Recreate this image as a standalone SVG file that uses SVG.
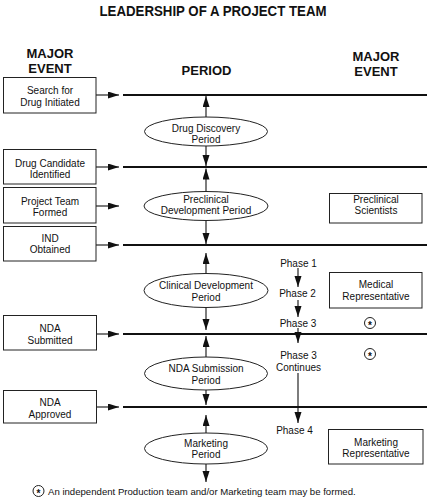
<svg xmlns="http://www.w3.org/2000/svg" width="427" height="500" viewBox="0 0 427 500">
<defs>
<marker id="ah" markerUnits="userSpaceOnUse" markerWidth="11" markerHeight="8" refX="11" refY="3.5" orient="auto">
<path d="M0,0 L11,3.5 L0,7 z" fill="#111"/>
</marker>
<style>
text{font-family:"Liberation Sans",Arial,sans-serif;fill:#111;text-anchor:middle}
.h{font-weight:bold;font-size:13px}
.t{font-size:10px}
.box{fill:#fff;stroke:#222;stroke-width:1}
.ell{fill:#fff;stroke:#222;stroke-width:1}
.ln{stroke:#111;stroke-width:2;fill:none}
.ar{stroke:#111;stroke-width:1.1;fill:none;marker-end:url(#ah)}
.st{fill:#fff;stroke:#222;stroke-width:1}
</style>
</defs>
<rect width="427" height="500" fill="#fff"/>
<text x="213" y="16" font-weight="bold" font-size="14.5" textLength="227" lengthAdjust="spacingAndGlyphs">LEADERSHIP OF A PROJECT TEAM</text>
<text class="h" x="50" y="58">MAJOR</text>
<text class="h" x="50" y="73">EVENT</text>
<text class="h" x="206.5" y="74.5">PERIOD</text>
<text class="h" x="376" y="61">MAJOR</text>
<text class="h" x="376" y="76">EVENT</text>

<g id="connectors">
<line class="ln" x1="123" y1="95" x2="427" y2="95"/>
<line class="ln" x1="123" y1="167" x2="427" y2="167"/>
<line class="ln" x1="123" y1="245" x2="427" y2="245"/>
<line class="ln" x1="123" y1="334" x2="427" y2="334"/>
<line class="ln" x1="123" y1="407" x2="427" y2="407"/>
<line class="ar" x1="96" y1="95" x2="119" y2="95"/>
<line class="ar" x1="96" y1="167" x2="119" y2="167"/>
<line class="ar" x1="96" y1="206" x2="119" y2="206"/>
<line class="ar" x1="96" y1="245" x2="119" y2="245"/>
<line class="ar" x1="97" y1="334" x2="119" y2="334"/>
<line class="ar" x1="97" y1="407" x2="119" y2="407"/>
<line class="ar" x1="206" y1="117" x2="206" y2="96"/>
<line class="ar" x1="206" y1="146" x2="206" y2="166"/>
<line class="ar" x1="206" y1="191.5" x2="206" y2="168.5"/>
<line class="ar" x1="206" y1="220.5" x2="206" y2="244"/>
<line class="ar" x1="206" y1="273.5" x2="206" y2="253"/>
<line class="ar" x1="206" y1="307.5" x2="206" y2="330"/>
<line class="ar" x1="206" y1="357" x2="206" y2="336"/>
<line class="ar" x1="206" y1="390" x2="206" y2="405"/>
<line class="ar" x1="206" y1="433" x2="206" y2="415"/>
<line class="ar" x1="206" y1="464" x2="206" y2="482"/>
<line class="ar" x1="298" y1="268" x2="298" y2="287"/>
<line class="ar" x1="298" y1="300" x2="298" y2="317"/>
<line class="ar" x1="298" y1="328" x2="298" y2="343"/>
<line class="ar" x1="298" y1="373" x2="298" y2="423"/>
</g>

<g id="ev-search">
<rect class="box" x="3.5" y="77.5" width="92.5" height="35.5"/>
<text class="t" x="50" y="93.5">Search for</text>
<text class="t" x="50" y="105.5">Drug Initiated</text>
</g>
<g id="ev-candidate">
<rect class="box" x="3.5" y="149.5" width="92.5" height="34.5"/>
<text class="t" x="50" y="166.5">Drug Candidate</text>
<text class="t" x="50" y="177.5">Identified</text>
</g>
<g id="ev-team">
<rect class="box" x="3.5" y="187.5" width="92.5" height="35.5"/>
<text class="t" x="50" y="204.5">Project Team</text>
<text class="t" x="50" y="215.5">Formed</text>
</g>
<g id="ev-ind">
<rect class="box" x="3.5" y="226.5" width="92.5" height="34.5"/>
<text class="t" x="50" y="241.5">IND</text>
<text class="t" x="50" y="252.5">Obtained</text>
</g>
<g id="ev-nda-sub">
<rect class="box" x="3.5" y="315.5" width="93" height="34.5"/>
<text class="t" x="50" y="331.5">NDA</text>
<text class="t" x="50" y="343.5">Submitted</text>
</g>
<g id="ev-nda-app">
<rect class="box" x="3.5" y="390.5" width="93" height="32.5"/>
<text class="t" x="50" y="405.5">NDA</text>
<text class="t" x="50" y="417.5">Approved</text>
</g>

<g id="p-discovery">
<ellipse class="ell" cx="206" cy="131.5" rx="61.5" ry="14.5"/>
<text class="t" x="206" y="131.5">Drug Discovery</text>
<text class="t" x="206" y="142.5">Period</text>
</g>
<g id="p-preclinical">
<ellipse class="ell" cx="206" cy="206" rx="62" ry="14.5"/>
<text class="t" x="206" y="202.5">Preclinical</text>
<text class="t" x="206" y="214">Development Period</text>
</g>
<g id="p-clinical">
<ellipse class="ell" cx="206" cy="290.5" rx="62" ry="17"/>
<text class="t" x="206" y="288.5">Clinical Development</text>
<text class="t" x="206" y="300.5">Period</text>
</g>
<g id="p-nda">
<ellipse class="ell" cx="206" cy="373.5" rx="61.5" ry="16.5"/>
<text class="t" x="206" y="371.5">NDA Submission</text>
<text class="t" x="206" y="383.5">Period</text>
</g>
<g id="p-marketing">
<ellipse class="ell" cx="206" cy="448.5" rx="61.5" ry="15.5"/>
<text class="t" x="206" y="446.5">Marketing</text>
<text class="t" x="206" y="457.5">Period</text>
</g>

<g id="phases">
<text class="t" x="298.5" y="266.5">Phase 1</text>
<text class="t" x="297.5" y="296.5">Phase 2</text>
<text class="t" x="298" y="326.5">Phase 3</text>
<text class="t" x="298.5" y="358.5">Phase 3</text>
<text class="t" x="298.5" y="370.5">Continues</text>
<text class="t" x="294.5" y="433.5">Phase 4</text>
</g>

<g id="r-preclinical">
<rect class="box" x="329.5" y="193.5" width="92.5" height="29.5"/>
<text class="t" x="376" y="202.5">Preclinical</text>
<text class="t" x="376" y="214">Scientists</text>
</g>
<g id="r-medical">
<rect class="box" x="329.5" y="272.5" width="92.5" height="35.5"/>
<text class="t" x="376" y="287.5">Medical</text>
<text class="t" x="376" y="300">Representative</text>
</g>
<g id="r-marketing">
<rect class="box" x="328.5" y="429.5" width="94.5" height="34.5"/>
<text class="t" x="376" y="446">Marketing</text>
<text class="t" x="376" y="457">Representative</text>
</g>

<g id="stars">
<circle class="st" cx="370" cy="323" r="5.5"/>
<text x="370" y="328.5" font-size="10" font-weight="bold">*</text>
<circle class="st" cx="370" cy="354" r="5.5"/>
<text x="370" y="359.5" font-size="10" font-weight="bold">*</text>
</g>

<g id="footnote">
<circle class="st" cx="38.5" cy="491" r="5.5"/>
<text x="38.5" y="496.5" font-size="10" font-weight="bold">*</text>
<text x="48" y="494.5" font-size="9.6" style="text-anchor:start">An independent Production team and/or Marketing team may be formed.</text>
</g>
</svg>
